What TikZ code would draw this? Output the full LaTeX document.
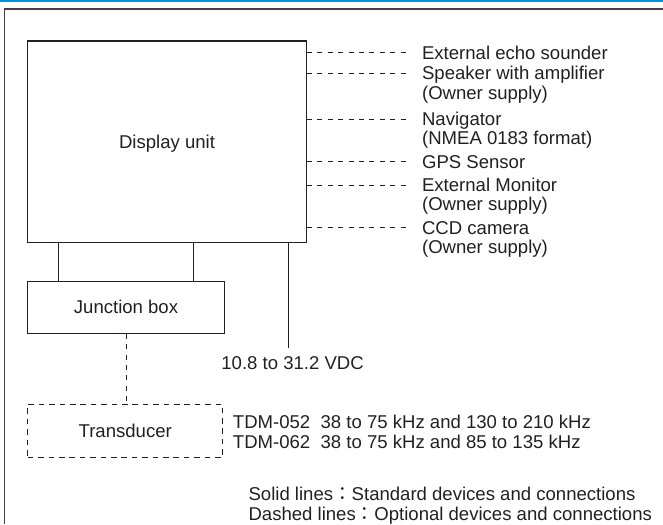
\documentclass[tikz,border=0pt]{standalone}
\usepackage{fontspec}
\setmainfont{Liberation Sans}
\newfontfamily\cjk{Noto Sans CJK JP}
\usepackage{tikz}
\usepackage{xcolor}
\usetikzlibrary{calc}

\definecolor{ink}{RGB}{35,31,32}
\definecolor{rule}{RGB}{0,146,210}

\tikzset{
	unitbox/.style={draw=ink, line width=0.85pt, text height=11.6pt, text depth=2.15pt},
	optbox/.style={unitbox, line width=0.7pt, dash pattern=on 4pt off 3.4pt},
	wire/.style={draw=ink, line width=0.85pt},
	optwire/.style={draw=ink, line width=0.7pt, dash pattern=on 3.6pt off 3.8pt},
	periph/.style={anchor=west, inner xsep=0.32cm, inner ysep=0pt, text height=11.6pt, text depth=2.15pt},
	note/.style={anchor=west, align=left, inner sep=0.1cm}
}

\begin{document}
\begin{tikzpicture}[font=\fontsize{13.2pt}{13.7pt}\selectfont, text=ink]
		\useasboundingbox (0,0) rectangle (16.575,-13.1);
		
		% Page rule and frame
		\draw[rule, line width=1.5pt] (0,-0.02) -- (16.575,-0.02);
		\draw[ink!85, line width=1pt] (16.575,-0.225) -- (0.1175,-0.225) -- (0.1175,-13.1);
		
		% Units
		\node[unitbox, minimum width=6.965cm, minimum height=5.03cm] (disp) at (4.175,-3.54) {Display unit};
		\node[unitbox, minimum width=4.915cm, minimum height=1.3cm] (jbox) at (3.15,-7.68) {Junction box};
		\node[optbox, minimum width=4.875cm, minimum height=1.33cm] (xdcr) at (3.13,-10.77) {Transducer};
		
		% Optional devices
		\node[periph] (echo) at (10.225,-1.3175) {External echo sounder};
		\node[periph] (spk) at (10.225,-1.8325) {Speaker with amplifier};
		\node[periph] (spk-2) at (10.225,-2.315) {(Owner supply)};
		\node[periph] (nav) at (10.225,-2.98) {Navigator};
		\node[periph] (nav-2) at (10.225,-3.4575) {(NMEA 0183 format)};
		\node[periph] (gps) at (10.225,-4.04) {GPS Sensor};
		\node[periph] (mon) at (10.225,-4.625) {External Monitor};
		\node[periph] (mon-2) at (10.225,-5.1075) {(Owner supply)};
		\node[periph] (ccd) at (10.225,-5.69) {CCD camera};
		\node[periph] (ccd-2) at (10.225,-6.175) {(Owner supply)};
		
		\draw[optwire] (disp.east |- echo.west) -- (echo.west);
		\draw[optwire] (disp.east |- spk.west) -- (spk.west);
		\draw[optwire] (disp.east |- nav.west) -- (nav.west);
		\draw[optwire] (disp.east |- gps.west) -- (gps.west);
		\draw[optwire] (disp.east |- mon.west) -- (mon.west);
		\draw[optwire] (disp.east |- ccd.west) -- (ccd.west);
		
		% Power supply
		\node[inner ysep=3.6pt, text height=11.6pt, text depth=2.15pt] (vdc) at (7.315,-9.0625) {10.8 to 31.2 VDC};
		\draw[wire] ([xshift=-0.455cm]disp.south east) -- ([xshift=-0.455cm]disp.south east |- vdc.north);
		
		% Cables
		\draw[wire] ([xshift=0.79cm]jbox.north west) -- ([xshift=0.79cm]jbox.north west |- disp.south);
		\draw[wire] ([xshift=-0.78cm]jbox.north east) -- ([xshift=-0.78cm]jbox.north east |- disp.south);
		\draw[optwire] (jbox.south) -- (jbox.south |- xdcr.north);
		
		% Notes
		\node[note] (tdm) at (5.7175,-10.795) {TDM-052\ \ 38 to 75 kHz and 130 to 210 kHz\\TDM-062\ \ 38 to 75 kHz and 85 to 135 kHz};
		\node[note] (legend) at (6.1075,-12.64) {Solid lines{\cjk ：}Standard devices and connections\\Dashed lines{\cjk ：}Optional devices and connections};
	\end{tikzpicture}
\end{document}
